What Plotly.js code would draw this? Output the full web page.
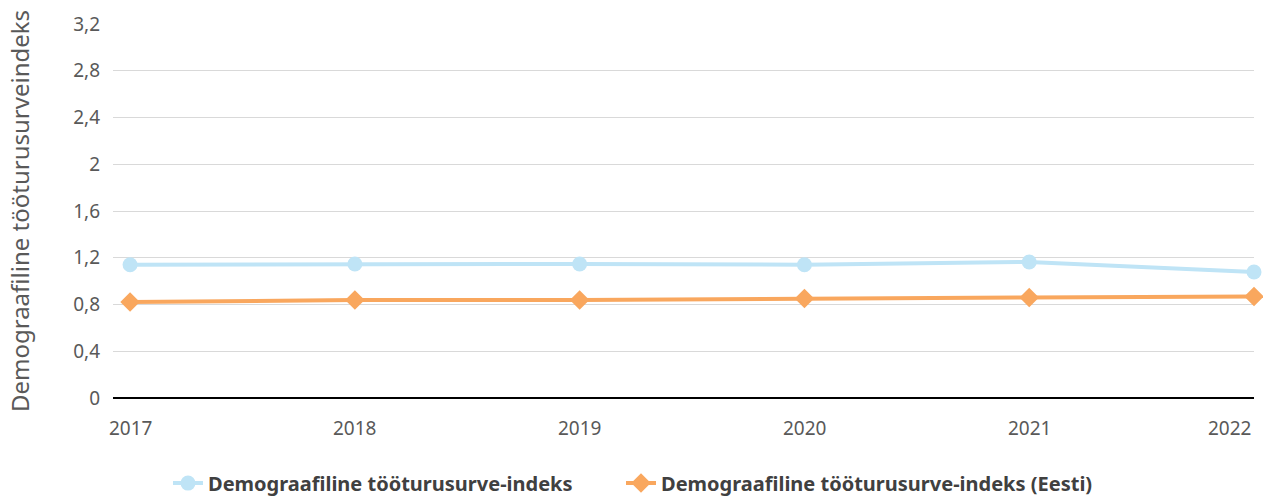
<!DOCTYPE html>
<html><head><meta charset="utf-8">
<script src="https://cdn.plot.ly/plotly-3.0.1.min.js"></script>
<style>html,body{margin:0;padding:0;background:#fff}#c{width:1263px;height:497px}</style>
</head><body><div id="c"></div>
<script>
const years = [2017, 2018, 2019, 2020, 2021, 2022];
const indeks = [1.14, 1.147, 1.147, 1.14, 1.164, 1.078];
const indeksEesti = [0.821, 0.838, 0.838, 0.851, 0.86, 0.868];
const yTicks = [0, 0.4, 0.8, 1.2, 1.6, 2, 2.4, 2.8, 3.2];
const seriesNames = ['Demograafiline tööturusurve-indeks', 'Demograafiline tööturusurve-indeks (Eesti)'];
const yTitle = 'Demograafiline tööturusurveindeks';

const font = 'Noto Sans, sans-serif';
const traces = [
  {x: years, y: indeks, name: seriesNames[0], mode: 'lines+markers', cliponaxis: false, legend: 'legend',
   line: {color: '#bfe4f6', width: 4}, marker: {symbol: 'circle', size: 15, color: '#bfe4f6'}},
  {x: years, y: indeksEesti, name: seriesNames[1], mode: 'lines+markers', cliponaxis: false, legend: 'legend2',
   line: {color: '#f9a75e', width: 4}, marker: {symbol: 'diamond', size: 15, color: '#f9a75e'}}
];
const annotations = years.map((yr, i) => ({
  x: yr, y: 0, xref: 'x', yref: 'y', text: String(yr), showarrow: false,
  yanchor: 'middle', yshift: -30,
  xanchor: i === years.length - 1 ? 'right' : 'center', xshift: i === years.length - 1 ? -1 : 0,
  font: {family: font, size: 19, color: '#595959'}
}));
const legFont = {family: font, size: 20, color: '#404040', weight: 'bold'};
Plotly.newPlot('c', traces, {
  width: 1263, height: 497,
  margin: {l: 113, r: 9, t: 24, b: 99, autoexpand: false},
  separators: ',.',
  paper_bgcolor: '#fff', plot_bgcolor: '#fff',
  font: {family: font, color: '#595959'},
  xaxis: {range: [2016.924, 2022], showticklabels: false, showgrid: false, zeroline: false,
    showline: false, ticks: ''},
  yaxis: {range: [0, 3.2], tickvals: yTicks, ticktext: yTicks.map(v => String(v).replace('.', ',')),
    showgrid: true, gridcolor: '#d9d9d9', gridwidth: 1, zeroline: true, zerolinecolor: '#000', zerolinewidth: 2,
    tickfont: {family: font, size: 19, color: '#595959'}, ticklen: 0, ticks: '', ticklabelstandoff: 12,
    title: {text: yTitle, font: {family: font, size: 24, color: '#595959'}, standoff: 36}},
  showlegend: true,
  legend: {orientation: 'h', xref: 'container', x: 168 / 1263, xanchor: 'left', yref: 'container', y: 0.028, yanchor: 'middle',
    font: legFont},
  legend2: {orientation: 'h', xref: 'container', x: 621 / 1263, xanchor: 'left', yref: 'container', y: 0.028, yanchor: 'middle',
    font: legFont},
  annotations: annotations
}, {displayModeBar: false, staticPlot: true});
</script></body></html>
